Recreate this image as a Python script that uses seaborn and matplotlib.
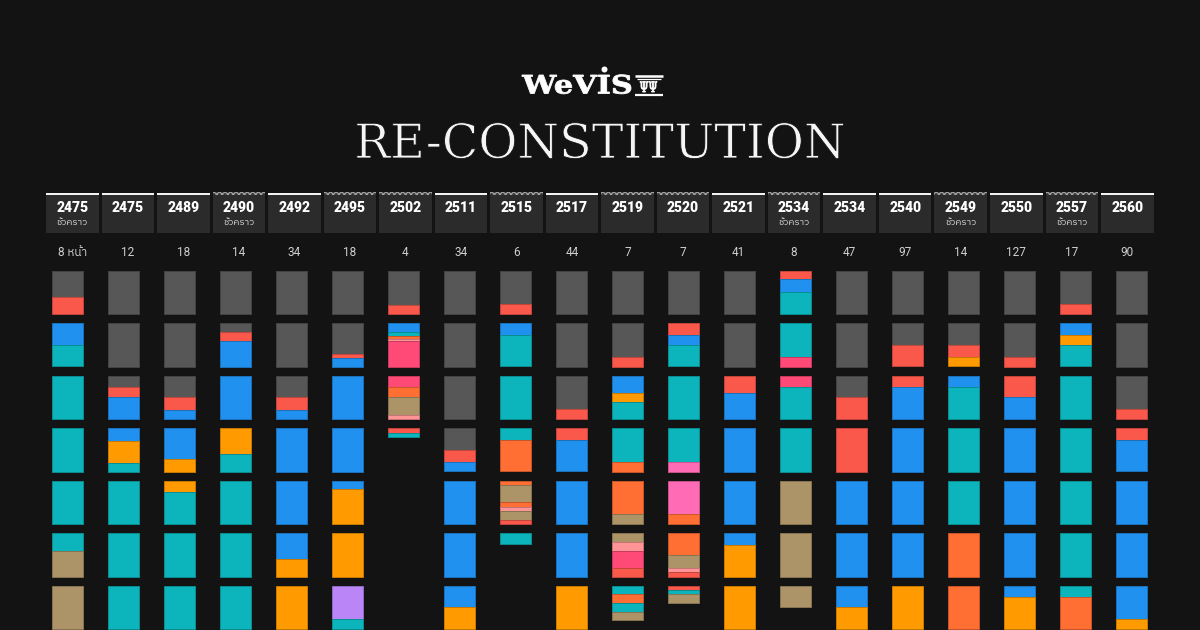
import numpy as np
import pandas as pd
import matplotlib
matplotlib.use("Agg")
import matplotlib.pyplot as plt
import seaborn as sns
from matplotlib import font_manager
from matplotlib.ft2font import FT2Font
from matplotlib.patches import Rectangle, PathPatch, Circle
from matplotlib.textpath import TextPath
from matplotlib.font_manager import FontProperties
from matplotlib.transforms import Affine2D
import matplotlib.patheffects as pe
import matplotlib.colors as mcolors

# ---------------- data ----------------
years = ["2475", "2475", "2489", "2490", "2492", "2495", "2502", "2511", "2515", "2517",
         "2519", "2520", "2521", "2534", "2534", "2540", "2549", "2550", "2557", "2560"]
interim = [True, False, False, True, False, False, False, False, False, False,
           False, False, False, True, False, False, True, False, True, False]
hatched_top = [False, False, False, True, False, True, True, False, True, False,
               True, True, False, True, False, False, True, False, True, False]
pages = [8, 12, 18, 14, 34, 18, 4, 34, 6, 44, 7, 7, 41, 8, 47, 97, 14, 127, 17, 90]
page_labels = ["8 หน้า"] + [str(p) for p in pages[1:]]

# Each column: blocks separated by "|", segments "<code><percent>" top to bottom
page_segments = [
    "G60 R40|B50 T50|T|T|T|T40 N60|N",
    "G|G|G26 R24 B50|B29 O51 T20|T|T|T",
    "G|G|G50 R30 B20|B70 O30|O26 T74|T|T",
    "G|G20 R20 B60|B|O60 T40|T|T|T",
    "G|G|G50 R30 B20|B|B|B60 O40|O",
    "G|G70 R10 B20|B|B|B20 O80|O|P77 T23",
    "G80 R20|B20 T10 F6 L4 C60|C26 F24 N40 L10|R10 T10",
    "G|G|G|G50 R27 B23|B|B|B50 O50",
    "G77 R23|B27 T73|T|T27 F73|F10 N40 F10 L10 N20 R10|T26",
    "G|G|G77 R23|R27 B73|B|B|O",
    "G|G77 R23|B40 O20 T40|T77 F23|F78 N22|N20 L20 C40 R20|T20 F20 T20 N20",
    "G|R27 B24 T49|T|T77 H23|H78 F22|F50 N30 L10 R10|R10 T10 N20",
    "G|G|R40 B60|B|B|B27 O73|O",
    "R20 B30 T50|T77 C23|C26 T74|T|N|N|N50",
    "G|G|G50 R50|R|B|B|B50 O50",
    "G|G50 R50|R26 B74|B|B|B|O",
    "G|G50 R27 O23|B26 T74|T|T|F|F",
    "G|G77 R23|R50 B50|B|B|B|B26 O74",
    "G77 R23|B27 O24 T49|T|T|T|T|T26 F74",
    "G|G|G77 R23|R27 B73|B|B|B77 O23",
]

palette = {
    "G": "#575757", "R": "#F9584B", "B": "#2191F0", "T": "#0CB5BC",
    "O": "#FF9B00", "N": "#AC9368", "P": "#B985F7", "C": "#FF4A78",
    "F": "#FF6E33", "L": "#FF9497", "H": "#FF6CB5",
}

# ---------------- layout ----------------
BG = "#131313"
HEAD_X0, HEAD_STEP, HEAD_W = 46.0, 55.53, 52.5
BLK_X0, BLK_STEP, BLK_W = 51.7, 56.0, 31.6
ROW_Y0, ROW_STEP, BLK_H = 270.7, 52.5, 43.3


def find_thai_family():
    cands = []
    for f in font_manager.fontManager.ttflist:
        try:
            cm = FT2Font(f.fname).get_charmap()
        except Exception:
            continue
        if 0x0E0A in cm and 0x0E27 in cm and 0x0E2B in cm:
            cands.append(f.name)
    cands.sort(key=lambda n: (0 if "Sans" in n else 1, n))
    return cands[0] if cands else None


sns.set_theme(style="dark", rc={"axes.facecolor": BG, "figure.facecolor": BG})
thai = find_thai_family()
base_fams = ["Roboto", "DejaVu Sans"]
if thai:
    base_fams = ["Roboto", thai, "DejaVu Sans"]
plt.rcParams["font.family"] = base_fams
plt.rcParams["hatch.linewidth"] = 0.8

# segments table
rows = []
for ci, spec in enumerate(page_segments):
    for ri, blk in enumerate(spec.split("|")):
        y = ROW_Y0 + ri * ROW_STEP
        for seg in blk.split():
            code = seg[0]
            pct = float(seg[1:]) if len(seg) > 1 else 100.0
            h = BLK_H * pct / 100.0
            rows.append(dict(col=ci, row=ri, code=code, y0=y, h=h))
            y += h
segs = pd.DataFrame(rows)
segs["x"] = BLK_X0 + segs["col"] * BLK_STEP + BLK_W / 2
segs["color"] = segs["code"].map(palette)
segs["edge"] = [tuple(np.array(mcolors.to_rgb(c)) * 0.78) for c in segs["color"]]

fig = plt.figure(figsize=(12, 6.3), dpi=100)
fig.patch.set_facecolor(BG)
ax = fig.add_axes([0, 0, 1, 1])
ax.set_facecolor(BG)
ax.set_xlim(0, 1200)
ax.set_ylim(630, 0)
ax.axis("off")

ax.bar(segs["x"], segs["h"], bottom=segs["y0"], width=BLK_W,
       color=segs["color"], edgecolor=segs["edge"], linewidth=0.7, align="center")

# headers
for i, yr in enumerate(years):
    x0 = HEAD_X0 + i * HEAD_STEP
    cx = x0 + HEAD_W / 2
    ax.add_patch(Rectangle((x0, 195), HEAD_W, 38, facecolor="#2B2B2B", edgecolor="none"))
    if hatched_top[i]:
        ax.add_patch(Rectangle((x0, 192.3), HEAD_W, 2.6, facecolor="#3a3a3a",
                               edgecolor="#a8a8a8", hatch="xxxxxx", linewidth=0))
    else:
        ax.add_patch(Rectangle((x0, 192.5), HEAD_W, 2.3, facecolor="#F2F2F2", edgecolor="none"))
    ax.text(cx, 207.5, yr, ha="center", va="center", color="white",
            fontsize=10, fontweight="black", family=base_fams)
    if interim[i]:
        ax.text(cx, 222.3, "ชั่วคราว", ha="center", va="center", color="#DADADA",
                fontsize=6.8, family=base_fams)
    ax.text(cx, 252.5, page_labels[i], ha="center", va="center", color="#CFCFCF",
            fontsize=8.5, family=base_fams)

# title (slightly thinned slab serif)
ax.text(600, 158, "RE-CONSTITUTION", ha="center", va="baseline", color="#F5F5F5",
        fontsize=34.3, family=["DejaVu Serif"],
        path_effects=[pe.Stroke(linewidth=0.6, foreground=BG)])


def place_text_path(s, x0, x1, y_base, cap_h, weight="bold"):
    tp = TextPath((0, 0), s, size=100, prop=FontProperties(family="DejaVu Serif", weight=weight))
    ext = tp.get_extents()
    sx = (x1 - x0) / ext.width
    sy = cap_h / 72.9
    tr = Affine2D().translate(-ext.x0, 0).scale(sx, -sy).translate(x0, y_base)
    ax.add_patch(PathPatch(tr.transform_path(tp), facecolor="white", edgecolor="white", lw=0.6))


# logo
place_text_path("WeVIS", 522, 631, 93.5, 18.5, weight="bold")
ax.add_patch(Circle((604.5, 69.5), 3.0, facecolor="white", edgecolor="none"))
ax.plot([634.5, 663], [75.8, 75.8], color="white", lw=1.8, solid_capstyle="butt")
ax.plot([636.5, 661], [79.4, 79.4], color="white", lw=0.9, solid_capstyle="butt")
place_text_path("ΨΨ", 640, 657, 92.0, 10.5, weight="normal")
ax.plot([634.5, 663], [94.8, 94.8], color="white", lw=1.6, solid_capstyle="butt")

fig.savefig("out.png", dpi=100, facecolor=BG)
